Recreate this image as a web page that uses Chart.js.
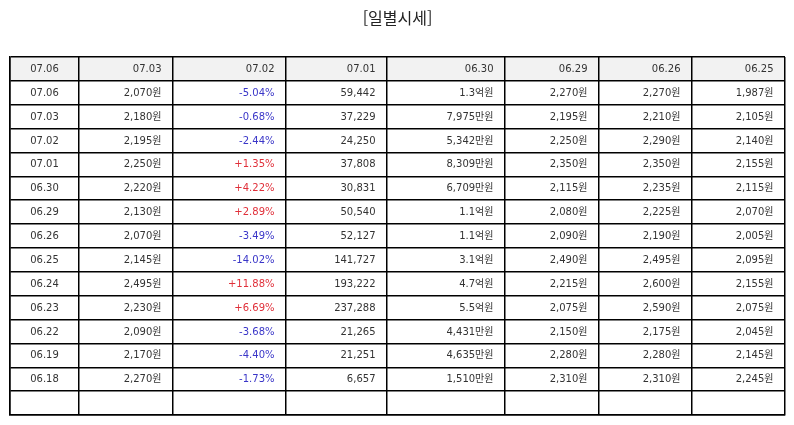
<!DOCTYPE html>
<html lang="ko">
<head>
<meta charset="utf-8">
<title>일별시세</title>
<script src="https://cdn.jsdelivr.net/npm/chart.js@4.4.1/dist/chart.umd.min.js"></script>
<style>
    html, body { margin: 0; padding: 0; background: #fff; }
    canvas { display: block; }
</style>
</head>
<body>
<canvas id="priceTable" width="794" height="425"></canvas>
<script>
// table data
const headers = ['07.06', '07.03', '07.02', '07.01', '06.30', '06.29', '06.26', '06.25'];
const dates = ['07.06', '07.03', '07.02', '07.01', '06.30', '06.29', '06.26', '06.25', '06.24', '06.23', '06.22', '06.19', '06.18'];
const closePrices = [2070, 2180, 2195, 2250, 2220, 2130, 2070, 2145, 2495, 2230, 2090, 2170, 2270];
const changeRates = [-5.04, -0.68, -2.44, 1.35, 4.22, 2.89, -3.49, -14.02, 11.88, 6.69, -3.68, -4.40, -1.73];
const volumes = [59442, 37229, 24250, 37808, 30831, 50540, 52127, 141727, 193222, 237288, 21265, 21251, 6657];
const amounts = ['1.3억원', '7,975만원', '5,342만원', '8,309만원', '6,709만원', '1.1억원', '1.1억원', '3.1억원', '4.7억원', '5.5억원', '4,431만원', '4,635만원', '1,510만원'];
const openPrices = [2270, 2195, 2250, 2350, 2115, 2080, 2090, 2490, 2215, 2075, 2150, 2280, 2310];
const highPrices = [2270, 2210, 2290, 2350, 2235, 2225, 2190, 2495, 2600, 2590, 2175, 2280, 2310];
const lowPrices = [1987, 2105, 2140, 2155, 2115, 2070, 2005, 2095, 2155, 2075, 2045, 2145, 2245];

// layout: column edges in table units
const colEdges = [0, 69, 163, 276, 377, 495, 589, 682, 775];
const rowLabels = ['header', ...dates, 'blank'];

const FONT = '"DejaVu Sans", "Noto Sans CJK KR", sans-serif';
const TITLE_FONT = '"Noto Sans CJK KR", sans-serif';

function won(v) {
    return v.toLocaleString('en-US') + '원';
}

function rate(v) {
    return (v > 0 ? '+' : '') + v.toFixed(2) + '%';
}

function cellsForRow(i) {
    return [
        { text: dates[i] },
        { text: won(closePrices[i]) },
        { text: rate(changeRates[i]), color: changeRates[i] > 0 ? '#e0303a' : '#3a36c8' },
        { text: volumes[i].toLocaleString('en-US') },
        { text: amounts[i] },
        { text: won(openPrices[i]) },
        { text: won(highPrices[i]) },
        { text: won(lowPrices[i]) }
    ];
}

const tablePlugin = {
    id: 'tablePlugin',
    beforeDraw(chart) {
        const { ctx, scales: { x, y } } = chart;
        const top = y.getPixelForValue(0) - (y.getPixelForValue(1) - y.getPixelForValue(0)) / 2;
        const bottom = (y.getPixelForValue(0) + y.getPixelForValue(1)) / 2;
        ctx.save();
        ctx.fillStyle = '#f2f2f2';
        ctx.fillRect(x.getPixelForValue(colEdges[0]), top, x.getPixelForValue(colEdges[colEdges.length - 1]) - x.getPixelForValue(colEdges[0]), bottom - top);
        ctx.restore();
    },
    afterDraw(chart) {
        const { ctx, scales: { x, y } } = chart;
        ctx.save();
        ctx.font = '10px ' + FONT;
        ctx.textBaseline = 'middle';
        rowLabels.forEach((label, r) => {
            let cells;
            if (r === 0) {
                cells = headers.map(h => ({ text: h }));
            } else if (r <= dates.length) {
                cells = cellsForRow(r - 1);
            } else {
                return;
            }
            const cy = y.getPixelForValue(r) + 0.5;
            cells.forEach((cell, c) => {
                const left = x.getPixelForValue(colEdges[c]);
                const right = x.getPixelForValue(colEdges[c + 1]);
                ctx.fillStyle = cell.color || '#333';
                if (c === 0) {
                    ctx.textAlign = 'center';
                    ctx.fillText(cell.text, (left + right) / 2, cy);
                } else {
                    ctx.textAlign = 'right';
                    ctx.fillText(cell.text, right - 11.5, cy);
                }
            });
        });
        ctx.restore();
    }
};

new Chart(document.getElementById('priceTable'), {
    type: 'scatter',
    data: { datasets: [] },
    options: {
        responsive: false,
        animation: false,
        layout: {
            padding: { left: 10, right: 9, top: 0, bottom: 10 }
        },
        plugins: {
            legend: { display: false },
            tooltip: { enabled: false },
            title: {
                display: true,
                text: '[일별시세]',
                color: '#222',
                font: { family: TITLE_FONT, size: 16, weight: 'normal' },
                padding: { top: 8, bottom: 29.8 }
            }
        },
        scales: {
            x: {
                type: 'linear',
                min: colEdges[0],
                max: colEdges[colEdges.length - 1],
                afterBuildTicks: scale => {
                    scale.ticks = colEdges.map(v => ({ value: v }));
                },
                ticks: { display: false },
                grid: { color: '#000', lineWidth: 1.5, drawTicks: false },
                border: { display: true, color: '#000', width: 1.5 }
            },
            y: {
                type: 'category',
                labels: rowLabels,
                offset: true,
                ticks: { display: false },
                grid: { offset: true, color: '#000', lineWidth: 1.5, drawTicks: false },
                border: { display: true, color: '#000', width: 1.5 }
            }
        }
    },
    plugins: [tablePlugin]
});
</script>
</body>
</html>
